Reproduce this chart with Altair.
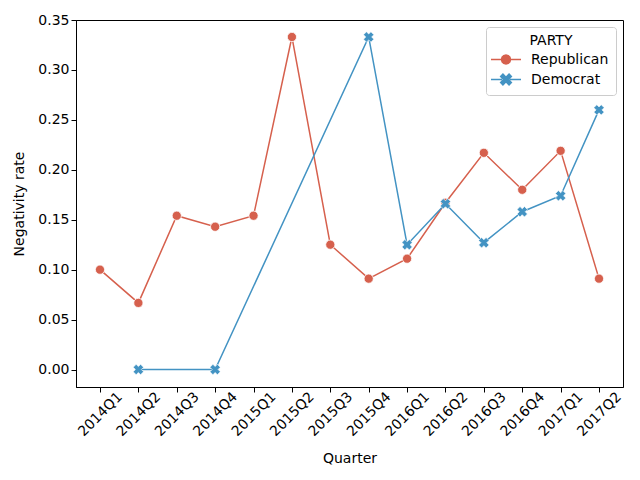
import altair as alt
import pandas as pd

quarters = ["2014Q1", "2014Q2", "2014Q3", "2014Q4", "2015Q1", "2015Q2", "2015Q3",
            "2015Q4", "2016Q1", "2016Q2", "2016Q3", "2016Q4", "2017Q1", "2017Q2"]
rep_values = [0.100, 0.0667, 0.154, 0.143, 0.154, 0.333, 0.125,
              0.091, 0.111, 0.167, 0.217, 0.180, 0.219, 0.091]
dem_quarters = ["2014Q2", "2014Q4", "2015Q4", "2016Q1", "2016Q2", "2016Q3",
                "2016Q4", "2017Q1", "2017Q2"]
dem_values = [0.0, 0.0, 0.333, 0.125, 0.166, 0.127, 0.158, 0.174, 0.260]
parties = ["Republican", "Democrat"]
colors = ["#d6604d", "#4393c3"]
y_ticks = [0.0, 0.05, 0.10, 0.15, 0.20, 0.25, 0.30, 0.35]

df = pd.DataFrame(
    [{"Quarter": q, "rate": v, "PARTY": "Republican"} for q, v in zip(quarters, rep_values)]
    + [{"Quarter": q, "rate": v, "PARTY": "Democrat"} for q, v in zip(dem_quarters, dem_values)]
)

x_enc = alt.X("Quarter:N", sort=quarters,
              scale=alt.Scale(type="point", domain=quarters, padding=0.625),
              axis=alt.Axis(title="Quarter", labelAngle=-45, labelAlign="center",
                            labelBaseline="middle", labelPadding=22, titlePadding=13))
y_enc = alt.Y("rate:Q", scale=alt.Scale(domain=[-0.0175, 0.35], nice=False, zero=False),
              axis=alt.Axis(title="Negativity rate", values=y_ticks, format=".2f",
                            titlePadding=11))
col_scale = alt.Scale(domain=parties, range=colors)

# legend glyphs: a short line with the marker in its middle (unit = 7.5 px)
circle_path = ("M-1.4,0L0,0M1.2,0L2.6,0"
               "M1.2,0L1.12,0.3L0.9,0.52L0.6,0.6L0.3,0.52L0.08,0.3"
               "L0,0L0.08,-0.3L0.3,-0.52L0.6,-0.6L0.9,-0.52L1.12,-0.3Z")
x_path = ("M-1.4,0L0.1,0M1.1,0L2.6,0"
          "M1.008,-0.713L1.313,-0.408L0.905,0L1.313,0.408L1.008,0.713L0.6,0.305"
          "L0.192,0.713L-0.113,0.408L0.295,0L-0.113,-0.408L0.192,-0.713L0.6,-0.305Z")

leg = alt.Legend(title="PARTY", orient="top-right", offset=7, padding=7,
                 strokeColor="#cccccc", fillColor="white", cornerRadius=3,
                 symbolSize=225, symbolStrokeWidth=1.5, symbolOpacity=1,
                 titleFontSize=14, titleFontWeight="normal", titleAnchor="middle",
                 titleColor="black", labelFontSize=14, labelColor="black",
                 rowPadding=4, titlePadding=3, labelOffset=21)

base = alt.Chart(df)
rep = base.transform_filter(alt.datum.PARTY == "Republican")
dem = base.transform_filter(alt.datum.PARTY == "Democrat")

rep_line = rep.mark_line(strokeWidth=1.5, color=colors[0]).encode(x=x_enc, y=y_enc)
dem_line = dem.mark_line(strokeWidth=1.5, color=colors[1]).encode(x=x_enc, y=y_enc)
rep_pts = rep.mark_point(
    filled=True, shape="circle", size=85, fill=colors[0], stroke="white",
    strokeWidth=0.8, opacity=1
).encode(x=x_enc, y=y_enc)
dem_pts = dem.mark_point(
    filled=True, shape="cross", angle=45, size=110, fill=colors[1], stroke="white",
    strokeWidth=0.6, opacity=1
).encode(x=x_enc, y=y_enc)

legend_layer = base.mark_point(filled=True, opacity=0).encode(
    x=x_enc, y=y_enc,
    color=alt.Color("PARTY:N", scale=col_scale, legend=leg),
    stroke=alt.Stroke("PARTY:N", scale=col_scale, legend=leg),
    shape=alt.Shape("PARTY:N", scale=alt.Scale(domain=parties, range=[circle_path, x_path]),
                    legend=leg),
)

chart = alt.layer(rep_line, dem_line, rep_pts, dem_pts, legend_layer).properties(
    width=547, height=367,
    autosize=alt.AutoSizeParams(type="none"),
    padding={"left": 68, "top": 12, "right": 9, "bottom": 85},
).configure_view(stroke="black", strokeWidth=1).configure_axis(
    grid=False, domainColor="black", tickColor="black", tickSize=5,
    labelFontSize=14, titleFontSize=14, titleFontWeight="normal",
    labelColor="black", titleColor="black", labelFont="DejaVu Sans", titleFont="DejaVu Sans",
).configure_legend(labelFont="DejaVu Sans", titleFont="DejaVu Sans")

chart.save("out.html", embed_options={"renderer": "svg", "actions": False})
